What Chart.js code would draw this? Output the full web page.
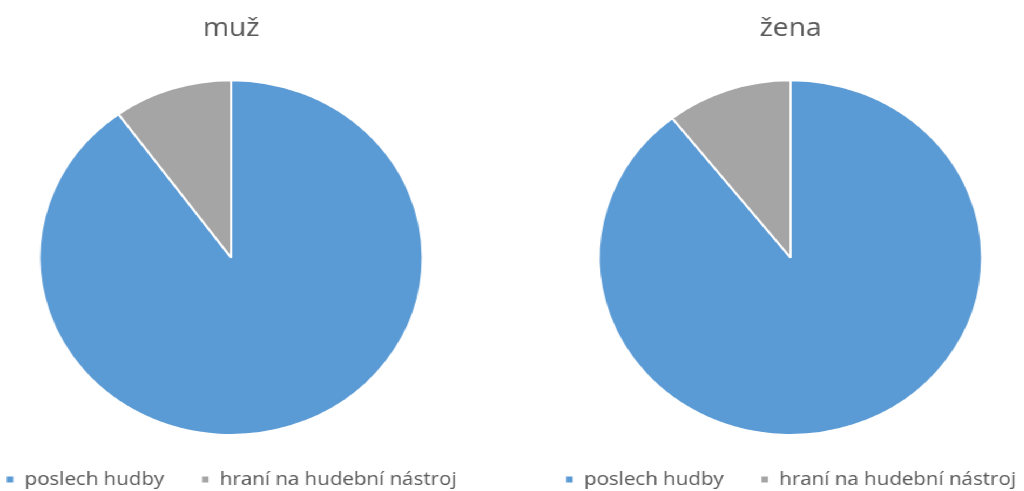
<!DOCTYPE html>
<html>
<head>
<meta charset="utf-8">
<script src="https://cdn.jsdelivr.net/npm/chart.js@4.4.0/dist/chart.umd.min.js"></script>
<style>
  html, body { margin: 0; padding: 0; background: #fff; overflow: hidden; }
  .stage {
    position: absolute; left: 0; top: 0;
    width: 948px; height: 491px;
    transform: scaleX(1.08); transform-origin: 0 0;
  }
  .box { position: absolute; top: 0; width: 500px; height: 491px; }
  .left { left: -36px; }
  .right { left: 482px; }
</style>
</head>
<body>
<div class="stage">
  <div class="box left"><canvas class="muz-chart"></canvas></div>
  <div class="box right"><canvas class="zena-chart"></canvas></div>
</div>
<script>
const activities = ["poslech hudby", "hraní na hudební nástroj"];
const muzValues = [90, 10];
const zenaValues = [89.4, 10.6];
const sliceColors = ["#5B9BD5", "#A5A5A5"];

Chart.defaults.font.family = "'Open Sans', sans-serif";
Chart.defaults.color = "#595959";

function makePie(el, title, values) {
  return new Chart(el, {
    type: "pie",
    data: {
      labels: activities,
      datasets: [{
        data: values,
        backgroundColor: sliceColors,
        borderColor: "#fff",
        borderWidth: 2,
      }],
    },
    options: {
      responsive: true,
      maintainAspectRatio: false,
      animation: false,
      // legend sits low, almost at the bottom edge
      layout: { padding: { top: 0, bottom: -8 } },
      plugins: {
        title: {
          display: true,
          text: title,
          color: "#595959",
          font: { size: 26, weight: "normal" },
          padding: { top: 13, bottom: 35 },
        },
        legend: {
          position: "bottom",
          labels: {
            boxWidth: 8,
            boxHeight: 8,
            padding: 34,
            color: "#595959",
            font: { size: 19 },
          },
        },
        tooltip: { enabled: false },
      },
    },
  });
}

makePie(document.querySelector(".muz-chart"), "muž", muzValues);
makePie(document.querySelector(".zena-chart"), "žena", zenaValues);
</script>
</body>
</html>
